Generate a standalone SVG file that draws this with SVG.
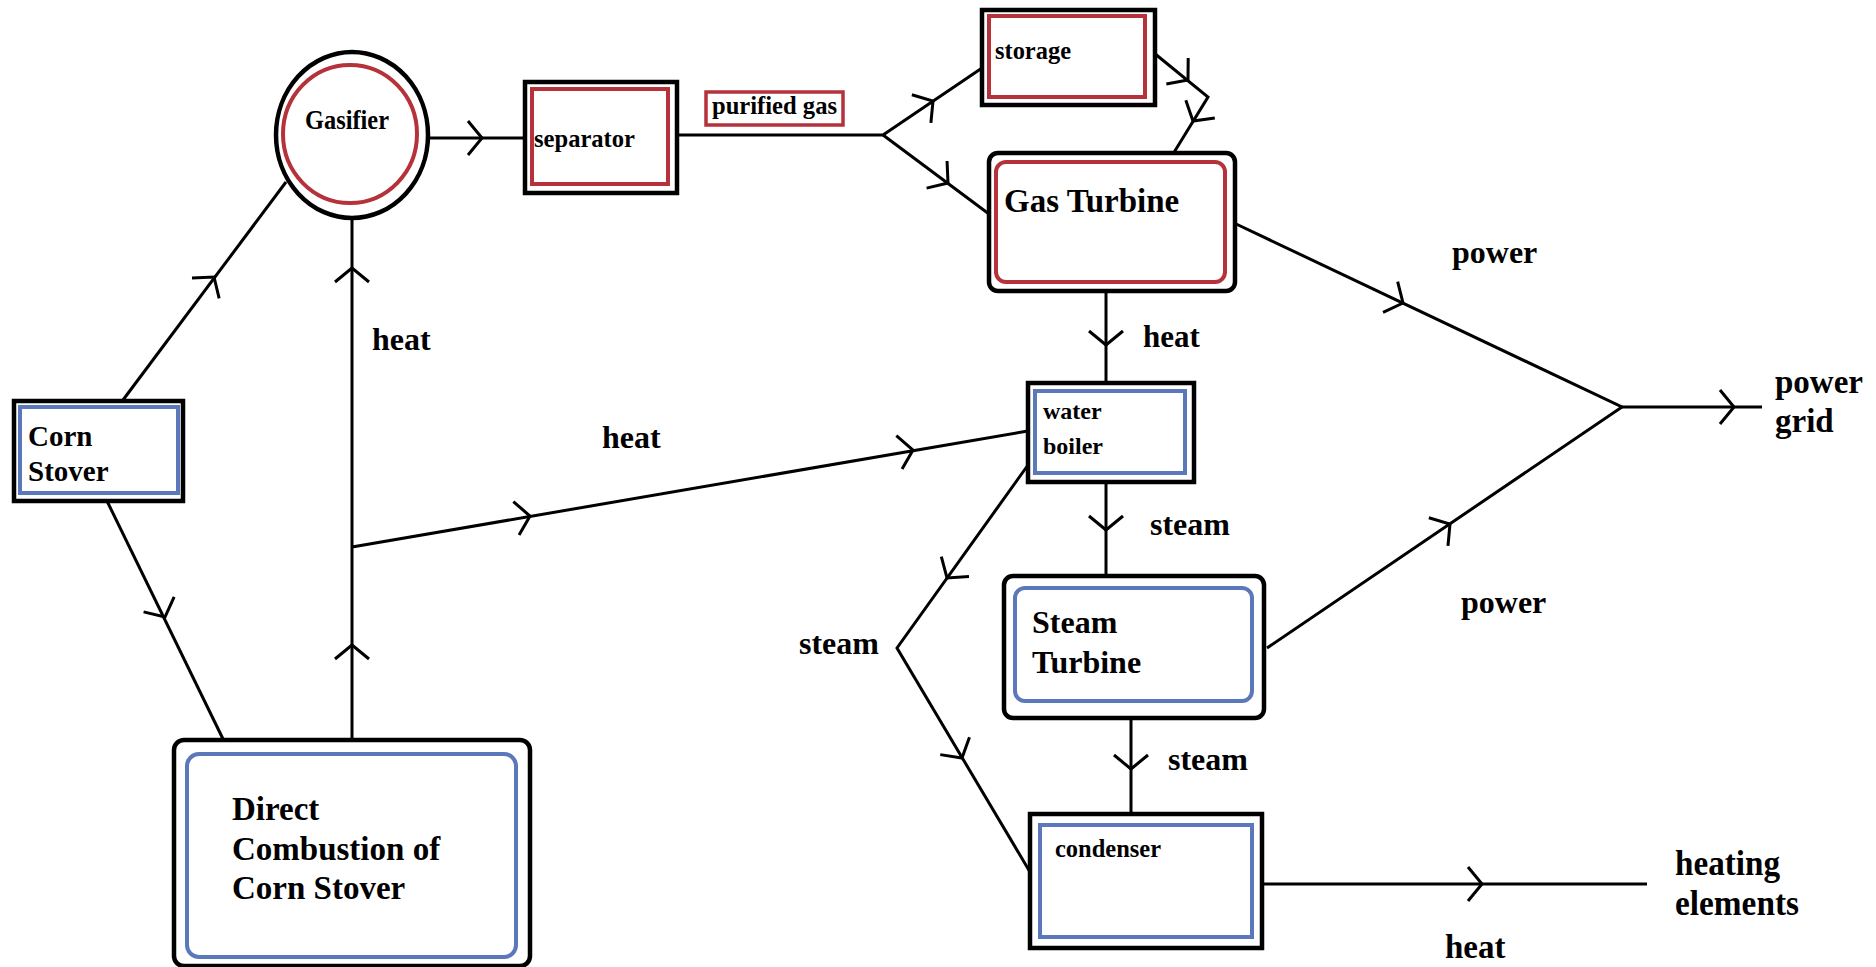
<svg xmlns="http://www.w3.org/2000/svg" xmlns:xlink="http://www.w3.org/1999/xlink" width="1876" height="967" viewBox="0 0 1876 967">
<style>
text{font-family:"Liberation Serif","Times New Roman",serif;font-weight:bold;fill:#000}
.outer{fill:#fff;stroke:#000;stroke-width:4.5}
.red{fill:none;stroke:#b5323b;stroke-width:4}
.blue{fill:none;stroke:#5b78bb;stroke-width:4}
.conn{fill:none;stroke:#000;stroke-width:3;stroke-linejoin:miter}
</style>
<defs>
<path id="chev" d="M-14,-17 L0,0 L-14,17" fill="none" stroke="#000" stroke-width="3"/>
</defs>
<rect width="1876" height="967" fill="#fff"/>

<g id="connectors">
<path class="conn" d="M123,400 L286,182"/>
<use href="#chev" transform="translate(214,277) rotate(-53)"/>
<path class="conn" d="M107,501 L223,739"/>
<use href="#chev" transform="translate(165,617) rotate(64)"/>
<path class="conn" d="M352,740 L352,219"/>
<use href="#chev" transform="translate(352,268) rotate(-90)"/>
<use href="#chev" transform="translate(352,645) rotate(-90)"/>
<path class="conn" d="M352,547 L1028,431"/>
<use href="#chev" transform="translate(530,516) rotate(-9.7)"/>
<use href="#chev" transform="translate(913,450) rotate(-9.7)"/>
<path class="conn" d="M428,138 L525,138"/>
<use href="#chev" transform="translate(482,138)"/>
<path class="conn" d="M677,135 L883,135 L982,68"/>
<path class="conn" d="M883,135 L989,214"/>
<use href="#chev" transform="translate(933,101) rotate(-34)"/>
<use href="#chev" transform="translate(948,183) rotate(37)"/>
<path class="conn" d="M1154,53 L1208,97 L1173,154"/>
<use href="#chev" transform="translate(1188,80) rotate(40)"/>
<use href="#chev" transform="translate(1193,121) rotate(121.5)"/>
<path class="conn" d="M1106,291 L1106,383"/>
<use href="#chev" transform="translate(1106,345) rotate(90)"/>
<path class="conn" d="M1106,482 L1106,576"/>
<use href="#chev" transform="translate(1106,530) rotate(90)"/>
<path class="conn" d="M1028,465 L897,648 L1030,872"/>
<use href="#chev" transform="translate(947,578) rotate(125.6)"/>
<use href="#chev" transform="translate(962,758) rotate(59.3)"/>
<path class="conn" d="M1131,718 L1131,814"/>
<use href="#chev" transform="translate(1131,769) rotate(90)"/>
<path class="conn" d="M1262,884 L1647,884"/>
<use href="#chev" transform="translate(1482,884)"/>
<path class="conn" d="M1234,223 L1622,407 L1267,648"/>
<use href="#chev" transform="translate(1403,303) rotate(25.4)"/>
<use href="#chev" transform="translate(1450,524) rotate(-34.2)"/>
<path class="conn" d="M1622,407 L1762,407"/>
<use href="#chev" transform="translate(1734,407)"/>
</g>

<g id="gasifier">
<ellipse class="outer" cx="352" cy="135" rx="76" ry="83"/>
<ellipse class="red" cx="350" cy="134" rx="67" ry="69"/>
<text x="305" y="129" font-size="27" textLength="84" lengthAdjust="spacingAndGlyphs">Gasifier</text>
</g>

<g id="separator">
<rect class="outer" x="525" y="82" width="152" height="111"/>
<rect class="red" x="532" y="89" width="136" height="95"/>
<text x="534" y="147" font-size="26" textLength="101" lengthAdjust="spacingAndGlyphs">separator</text>
</g>

<g id="purified-gas">
<rect x="706" y="92" width="137" height="33" fill="#fff" stroke="#b5323b" stroke-width="3.5"/>
<text x="712" y="114" font-size="25" textLength="125" lengthAdjust="spacingAndGlyphs">purified gas</text>
</g>

<g id="storage">
<rect class="outer" x="982" y="10" width="173" height="95"/>
<rect class="red" x="989" y="16" width="156" height="81"/>
<text x="995" y="59" font-size="25" textLength="76" lengthAdjust="spacingAndGlyphs">storage</text>
</g>

<g id="gas-turbine">
<rect class="outer" x="989" y="153" width="246" height="138" rx="9"/>
<rect class="red" x="996" y="162" width="229" height="120" rx="10"/>
<text x="1004" y="212" font-size="33">Gas Turbine</text>
</g>

<g id="corn-stover">
<rect class="outer" x="14" y="401" width="169" height="100"/>
<rect class="blue" x="20" y="407" width="158" height="86"/>
<text x="28" y="446" font-size="29">Corn</text>
<text x="28" y="481" font-size="29">Stover</text>
</g>

<g id="direct-combustion">
<rect class="outer" x="174" y="740" width="356" height="226" rx="10"/>
<rect class="blue" x="187" y="754" width="329" height="203" rx="12"/>
<text x="232" y="820" font-size="33">Direct</text>
<text x="232" y="860" font-size="33">Combustion of</text>
<text x="232" y="899" font-size="33">Corn Stover</text>
</g>

<g id="water-boiler">
<rect class="outer" x="1028" y="383" width="166" height="99"/>
<rect class="blue" x="1035" y="391" width="150" height="82"/>
<text x="1043" y="419" font-size="24">water</text>
<text x="1043" y="454" font-size="24">boiler</text>
</g>

<g id="steam-turbine">
<rect class="outer" x="1004" y="576" width="260" height="142" rx="9"/>
<rect class="blue" x="1015" y="588" width="237" height="113" rx="10"/>
<text x="1032" y="633" font-size="32">Steam</text>
<text x="1032" y="673" font-size="32">Turbine</text>
</g>

<g id="condenser">
<rect class="outer" x="1030" y="814" width="232" height="134"/>
<rect class="blue" x="1040" y="825" width="212" height="112"/>
<text x="1055" y="857" font-size="25" textLength="106" lengthAdjust="spacingAndGlyphs">condenser</text>
</g>

<g id="labels">
<text x="372" y="350" font-size="32">heat</text>
<text x="602" y="448" font-size="32">heat</text>
<text x="1143" y="347" font-size="31">heat</text>
<text x="1150" y="535" font-size="32">steam</text>
<text x="799" y="654" font-size="32">steam</text>
<text x="1168" y="770" font-size="32">steam</text>
<text x="1452" y="263" font-size="32">power</text>
<text x="1461" y="613" font-size="32">power</text>
<text x="1775" y="393" font-size="33">power</text>
<text x="1775" y="432" font-size="33">grid</text>
<text x="1675" y="875" font-size="35" textLength="105" lengthAdjust="spacingAndGlyphs">heating</text>
<text x="1675" y="915" font-size="35" textLength="124" lengthAdjust="spacingAndGlyphs">elements</text>
<text x="1445" y="958" font-size="33">heat</text>
</g>
</svg>
